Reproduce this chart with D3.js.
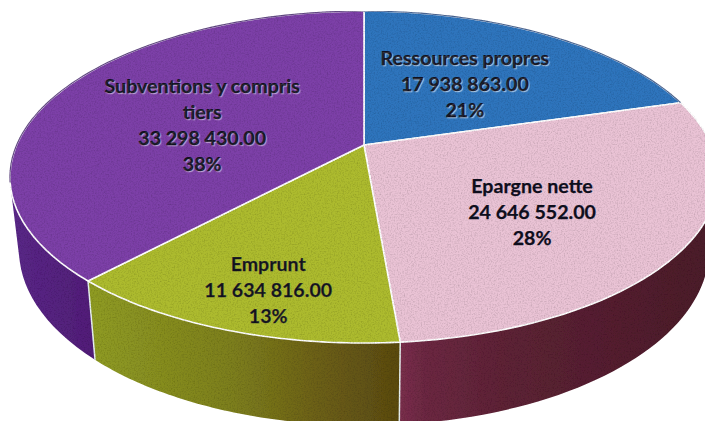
<!DOCTYPE html>
<html><head><meta charset="utf-8">
<style>html,body{margin:0;padding:0;background:#fff}svg{display:block}</style>
<script src="https://cdn.jsdelivr.net/npm/d3@7"></script>
</head><body><svg id="c" width="705" height="421"></svg>
<script>
const categories = ["Ressources propres","Epargne nette","Emprunt","Subventions y compris tiers"];
const amounts = [17938863,24646552,11634816,33298430];
const amountLabels = ["17 938 863.00","24 646 552.00","11 634 816.00","33 298 430.00"];
const percentLabels = ["21%","28%","13%","38%"];
const topColors = ["#2f74bd","#eac3d5","#adbb2e","#7d41a8"];
const rimColors = ["#1d3f78","none","none","#3c1a66"];

const svg = d3.select("#c"), defs = svg.append("defs");

// Perspective projection of a flat disc
const K = 0.193;
const topRim = {x0:364,y0:145,bx:347.4,by:159.8};
const baseRim = {x0:364,y0:216,bx:338.5,by:169};
const project = (rim,a,r=1) => {
  const X = r*Math.sin(a), Y = r*Math.cos(a), w = 1+K*Y;
  return [rim.x0+rim.bx*X/w, rim.y0-rim.by*Y/w];
};
const arcs = d3.pie().sort(null).startAngle(0).endAngle(2*Math.PI)(amounts);
const samples = (s,e,n=60) => d3.range(0,n+1).map(i=>s+(e-s)*i/n);
const line = d3.line().curve(d3.curveLinear);

// Side gradients
const sideStops = [
  [["0%","#5c2234"],["100%","#5c2234"]],
  [["0%","#7a2e4c"],["8%","#6c2842"],["35%","#5d2235"],["100%","#4c1a2a"]],
  [["0%","#8f9b22"],["45%","#7d7f1c"],["75%","#6b5e15"],["100%","#5a4a10"]],
  [["0%","#5a2788"],["100%","#511d78"]]
];
const sideBox = [[400,705],[400,705],[95,400],[10,95]];
sideStops.forEach((st,i)=>{
  const g = defs.append("linearGradient").attr("id","side"+i).attr("gradientUnits","userSpaceOnUse")
    .attr("x1",sideBox[i][0]).attr("x2",sideBox[i][1]).attr("y1",0).attr("y2",0);
  st.forEach(s=>g.append("stop").attr("offset",s[0]).attr("stop-color",s[1]));
});

// Paper-print grain
const grain = defs.append("filter").attr("id","grain").attr("x",0).attr("y",0).attr("width","100%").attr("height","100%");
grain.append("feTurbulence").attr("type","fractalNoise").attr("baseFrequency",0.7).attr("numOctaves",2).attr("seed",4).attr("result","n");
grain.append("feColorMatrix").attr("in","n").attr("type","matrix")
  .attr("values","0 0 0 0 0  0 0 0 0 0  0 0 0 0 0  1.6 0 0 0 -0.66").attr("result","d");
grain.append("feComposite").attr("in","d").attr("in2","SourceGraphic").attr("operator","in").attr("result","m");
grain.append("feComponentTransfer").attr("in","m").attr("result","m2")
  .append("feFuncA").attr("type","linear").attr("slope",0.4);
const mg = grain.append("feMerge");
mg.append("feMergeNode").attr("in","SourceGraphic");
mg.append("feMergeNode").attr("in","m2");

const pie = svg.append("g").attr("filter","url(#grain)");

// Side walls: one consistently wound quad per sample step, so the fold at the silhouette stays filled
const ccw = q => d3.polygonArea(q) < 0 ? q.slice().reverse() : q;
pie.append("g").selectAll("path").data(arcs).join("path")
  .attr("d",d=>{
    const t = samples(d.startAngle,d.endAngle);
    return d3.pairs(t).map(([a,b])=>line(ccw([project(topRim,a),project(topRim,b),project(baseRim,b),project(baseRim,a)]))+"Z").join("");
  })
  .attr("fill",(d,i)=>`url(#side${i})`);

// Bright seams at the visible wall joints
pie.append("g").selectAll("line").data([arcs[2],arcs[3]]).join("line")
  .attr("x1",d=>project(topRim,d.startAngle)[0]).attr("y1",d=>project(topRim,d.startAngle)[1])
  .attr("x2",d=>project(baseRim,d.startAngle)[0]).attr("y2",d=>project(baseRim,d.startAngle)[1])
  .attr("stroke","#e8f2f2").attr("stroke-width",1.5);

// Top faces
pie.append("g").selectAll("path").data(arcs).join("path")
  .attr("d",d=>line([project(topRim,0,0),...samples(d.startAngle,d.endAngle).map(a=>project(topRim,a))])+"Z")
  .attr("fill",(d,i)=>topColors[i])
  .attr("stroke","#fff").attr("stroke-width",1.6).attr("stroke-linejoin","round");

// Dark printed edge along the far side of the rim
const farLimit = -103*Math.PI/180;
pie.append("g").selectAll("path").data(arcs).join("path")
  .attr("d",d=>{
    if(d.index===0) return line(samples(d.startAngle,d.endAngle).map(a=>project(topRim,a)));
    if(d.index===3) return line(samples(2*Math.PI+farLimit,d.endAngle).map(a=>project(topRim,a)));
    return null;
  })
  .attr("fill","none").attr("stroke",(d,i)=>rimColors[i]).attr("stroke-width",1.1).attr("stroke-opacity",.8);

// Labels
const labelPlacement = [{r:.512,turn:.8},{r:.595,turn:6.8},{r:.811,turn:-2.3},{r:.492,turn:-7.2}];
const labelLines = [["Ressources propres"],["Epargne nette"],["Emprunt"],["Subventions y compris","tiers"]];
const glow = ["1px 1px 1px rgba(255,255,255,.6)","none","0 0 1px rgba(230,240,120,.5)","1px 1px 1px rgba(255,255,255,.5)"];
const lh = 26;
svg.append("g").selectAll("text").data(arcs).join("text")
  .attr("text-anchor","middle")
  .attr("font-family","Lato, 'Open Sans', sans-serif").attr("font-weight",700).attr("font-size",19.6)
  .attr("fill","#0e0e1c").attr("stroke","#0e0e1c").attr("stroke-width",.25)
  .style("text-shadow",(d,i)=>glow[i])
  .each(function(d,i){
    const a = (d.startAngle+d.endAngle)/2 + labelPlacement[i].turn*Math.PI/180;
    const [cx,cy] = project(topRim,a,labelPlacement[i].r);
    const rows = [...labelLines[i],amountLabels[i],percentLabels[i]];
    const y0 = cy-(rows.length-1)*lh/2+6;
    d3.select(this).selectAll("tspan").data(rows).join("tspan")
      .attr("x",cx).attr("y",(r,j)=>y0+j*lh).text(r=>r);
  });
</script></body></html>
